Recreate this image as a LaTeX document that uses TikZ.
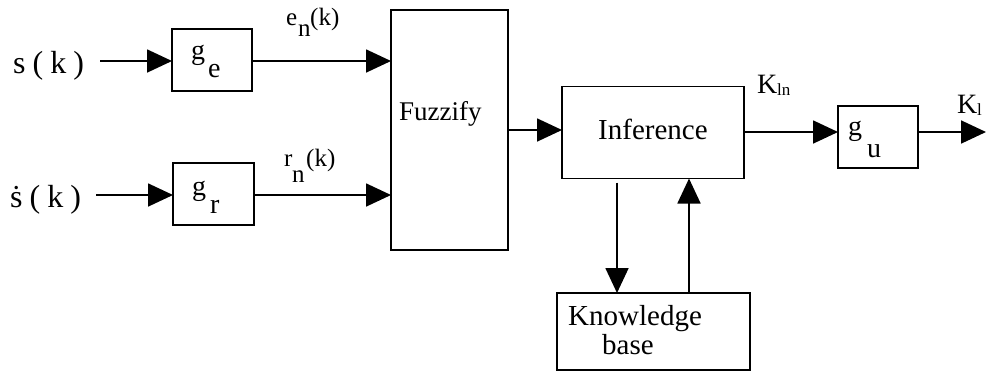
\documentclass[tikz,border=0pt]{standalone}
\usepackage{fontspec}
\setmainfont{Liberation Serif}
\usetikzlibrary{arrows.meta}
\newcommand\fsz[1]{\fontsize{#1}{#1}\selectfont}
\begin{document}
\begin{tikzpicture}[x=1pt,y=-1pt,
  box/.style={draw, line width=1.8pt, inner sep=0pt, outer sep=0pt},
  arr/.style={line width=1.8pt, -{Triangle[length=25pt,width=23pt]}},
  txt/.style={inner sep=0pt, anchor=base west},
  big/.style={txt, font=\fsz{32}},
  mid/.style={txt, font=\fsz{28}},
  lab/.style={txt, font=\fsz{25}},
  tiny/.style={txt, font=\fsz{17}}]
\useasboundingbox (0,0) rectangle (987,373);

% blocks
\node[box, minimum width=80pt,  minimum height=62pt]  (ge)   at (212,60)    {};
\node[box, minimum width=81pt,  minimum height=62pt]  (gr)   at (213.5,194) {};
\node[box, minimum width=117pt, minimum height=240pt] (fuzz) at (449.5,130) {};
\node[box, minimum width=182pt, minimum height=92pt]  (inf)  at (653,132.5) {};
\node[box, minimum width=80pt,  minimum height=62pt]  (gu)   at (878,137)   {};
\node[box, minimum width=193pt, minimum height=77pt]  (kb)   at (653.5,331.5) {};

% block texts
\node[mid] (tg1) at (191,59)  {g};
\node[mid] (te)  at (208,77)  {e};
\node[mid] (tg2) at (192,195) {g};
\node[mid] (tr)  at (210,213) {r};
\node[mid] (tg3) at (848,135) {g};
\node[mid] (tu)  at (867,157) {u};
\node[txt, font=\fsz{27}] (tfz) at (399,120) {Fuzzify};
\node[txt, font=\fsz{29}] (tin) at (598,139) {Inference};
\node[inner sep=0pt, anchor=north west, font=\fsz{29}, align=left] (tkb) at (568,305)
  {Knowledge\\[0pt]\hspace{34pt}base};

% inputs
\node[big] (sk)  at (13,73)  {s\hspace{7pt}(\hspace{7pt}k\hspace{7pt})};
\node[big] (sdk) at (10,207) {\.{s}\hspace{7pt}(\hspace{7pt}k\hspace{7pt})};
\coordinate (sin)  at (100,61);
\coordinate (sdin) at (96,195);

% signal labels
\node[lab] (le)  at (286,25)  {e};
\node[lab] (len) at (298,36)  {n};
\node[lab] (lek) at (310,25)  {(k)};
\node[lab] (lr)  at (284,166) {r};
\node[lab] (lrn) at (292,182) {n};
\node[lab] (lrk) at (306,166) {(k)};
\node[txt, font=\fsz{28}] (lK1) at (757,93) {K};
\node[tiny] (lK1s) at (777,95) {ln};
\node[txt, font=\fsz{28}] (lK2) at (957,113) {K};
\node[tiny] (lK2s) at (977,115) {l};
\coordinate (out) at (986,132);

% connectors
\draw[arr] (sin) -- (sin -| ge.west);
\draw[arr] (sdin) -- (sdin -| gr.west);
\draw[arr] (ge.east |- sin) -- (sin -| fuzz.west);
\draw[arr] (gr.east |- sdin) -- (sdin -| fuzz.west);
\draw[arr] (fuzz.east) -- (fuzz.east -| inf.west);
\draw[arr] (inf.east |- out) -- (out -| gu.west);
\draw[arr] (gu.east |- out) -- (out);
\draw[arr] ([xshift=-36pt, yshift=-4pt]inf.south) -- ([xshift=-36pt]inf.south |- kb.north);
\draw[arr] ([xshift=36pt]inf.south |- kb.north) -- ([xshift=36pt]inf.south);
\end{tikzpicture}
\end{document}
